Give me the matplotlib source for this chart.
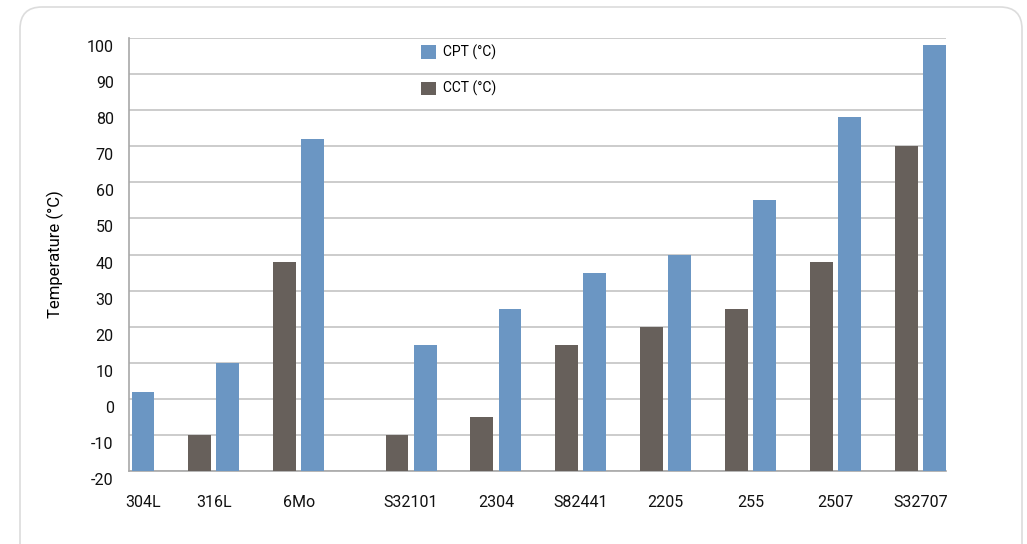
import numpy as np
import matplotlib.pyplot as plt
import matplotlib.transforms as mtransforms
from matplotlib.patches import FancyBboxPatch

# 数据
grades = ['304L', '316L', '6Mo', 'S32101', '2304', 'S82441', '2205', '255', '2507', 'S32707']
cpt = [2, 10, 72, 15, 25, 35, 40, 55, 78, 98]
cct = [None, -10, 38, -10, -5, 15, 20, 25, 38, 70]

blue = '#6b96c3'
grey = '#67605b'
base = -20

plt.rcParams['font.family'] = ['Roboto', 'DejaVu Sans']
plt.rcParams['axes.unicode_minus'] = False
fig = plt.figure(figsize=(10.27, 5.44), dpi=100)

# 外框卡片 (放在底层坐标系里)
bg = fig.add_axes([0, 0, 1, 1], zorder=-10)
bg.set_xlim(0, 1027)
bg.set_ylim(544, 0)
bg.axis('off')
bg.add_patch(FancyBboxPatch((20, 7), 1002, 600,
                            boxstyle='round,pad=0,rounding_size=22',
                            facecolor='white', edgecolor='#dcdcdc', linewidth=1.2))

ax = fig.add_axes([129 / 1027, 1 - 471 / 544, (946 - 129) / 1027, (471 - 38) / 544])
ax.set_facecolor('none')

# 分组位置 (6Mo 后面间隔稍大)
x = np.arange(len(grades), dtype=float)
x[3:] += 0.32
w = 0.27
off = 0.165

ticks = []
for i in range(len(grades)):
    if cct[i] is None:
        ax.bar(x[i] + off, cpt[i] - base, w, bottom=base, color=blue, zorder=3)
        ticks.append(x[i] + off)
    else:
        ax.bar(x[i] - off, cct[i] - base, w, bottom=base, color=grey, zorder=3)
        ax.bar(x[i] + off, cpt[i] - base, w, bottom=base, color=blue, zorder=3)
        ticks.append(x[i])

ax.bar([0], [0], color=blue, label='CPT (°C)')
ax.bar([0], [0], color=grey, label='CCT (°C)')

ax.set_xlim(0, (946 - 128.5) / 85)
ax.set_ylim(-20, 100)
ax.set_yticks(range(-20, 101, 10))
ax.set_xticks(ticks, grades)
ax.yaxis.grid(True, color='#c4c4c4', linewidth=1.2, zorder=0)
ax.set_axisbelow(True)
for s in ['top', 'right']:
    ax.spines[s].set_visible(False)
ax.spines['left'].set_color('#a8a8a8')
ax.spines['bottom'].set_color('#a8a8a8')
ax.spines['left'].set_linewidth(1.2)
ax.spines['bottom'].set_linewidth(1.2)
ax.tick_params(axis='both', length=0, labelsize=11.5, colors='#111111')
ax.tick_params(axis='x', pad=17)
ax.tick_params(axis='y', pad=11)

# y 轴刻度文字略低于网格线
shift = mtransforms.ScaledTranslation(0, -0.08, fig.dpi_scale_trans)
for lab in ax.get_yticklabels():
    lab.set_transform(lab.get_transform() + shift)

ax.set_ylabel('Temperature (°C)', fontsize=12, labelpad=16)

ax.legend(loc='upper left', bbox_to_anchor=(279 / 817, 1.013), frameon=False,
          fontsize=10, handlelength=1.1, handleheight=1.1, labelspacing=1.5,
          handletextpad=0.5)

fig.savefig('out.png', dpi=100)
